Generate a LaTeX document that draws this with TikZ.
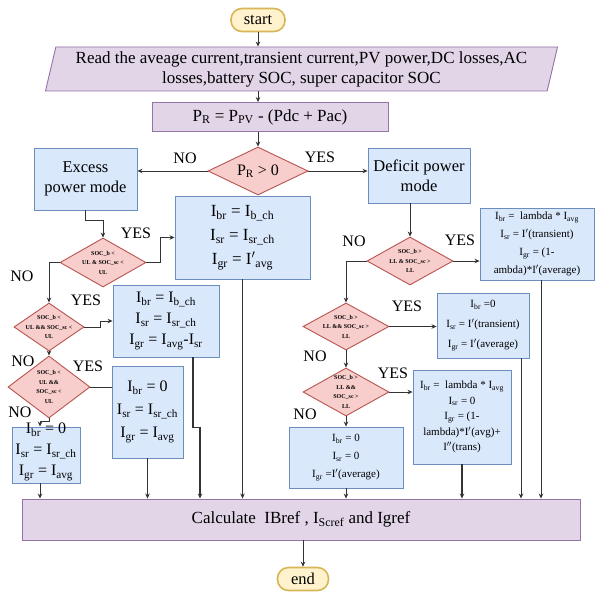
\documentclass[tikz,border=0pt]{standalone}
\usepackage{fontspec}
\setmainfont{Liberation Serif}
\usetikzlibrary{shapes.geometric,arrows.meta,calc}
\definecolor{bluefill}{HTML}{DAE8FC}
\definecolor{bluebd}{HTML}{6C8EBF}
\definecolor{redfill}{HTML}{F8CECC}
\definecolor{redbd}{HTML}{B85450}
\definecolor{purpfill}{HTML}{E1D5E7}
\definecolor{purpbd}{HTML}{9673A6}
\definecolor{yelfill}{HTML}{FFF2CC}
\definecolor{yelbd}{HTML}{D6B656}
\definecolor{linec}{HTML}{333333}
\newcommand{\sbs}[1]{\textsubscript{#1}}
\begin{document}
\begin{tikzpicture}[x=1pt,y=-1pt,
  bbox/.style={draw=bluebd, fill=bluefill, line width=0.9pt, inner sep=0pt, align=center, font=\fontsize{16}{21}\selectfont},
  rbox/.style={bbox, font=\fontsize{11}{18}\selectfont},
  pbox/.style={draw=purpbd, fill=purpfill, line width=0.9pt, inner sep=0pt, align=center, font=\fontsize{17}{20}\selectfont},
  term/.style={draw=yelbd, fill=yelfill, line width=1.6pt, rounded corners=11pt, inner sep=0pt, font=\fontsize{16.5}{20}\selectfont},
  dec/.style={diamond, draw=redbd, fill=redfill, line width=0.9pt, inner sep=0pt, aspect=2},
  dtext/.style={align=center, font=\fontsize{6}{9.5}\selectfont\bfseries, inner sep=0pt},
  arr/.style={draw=linec, line width=0.8pt, -{Stealth[length=5pt,width=4.5pt]}},
  ln/.style={draw=linec, line width=0.8pt},
  lab/.style={font=\fontsize{16}{18}\selectfont, inner sep=0pt}
]
\useasboundingbox[fill=white] (0,0) rectangle (596,591);
\coordinate (c200) at (200,0);
% top
\node[term, minimum width=54, minimum height=23] (start) at (258,20) {start};
\node[trapezium, trapezium left angle=75, trapezium right angle=105, trapezium stretches=true,
      draw=purpbd, fill=purpfill, line width=0.9pt, inner sep=0pt, minimum width=513, minimum height=44,
      align=center, font=\fontsize{17}{20}\selectfont] (read) at (301.5,69)
      {Read the aveage current,transient current,PV power,DC losses,AC\\losses,battery SOC, super capacitor SOC};
\node[pbox, minimum width=236, minimum height=29] (pr) at (270,117) {P\sbs{R} = P\sbs{PV} - (Pdc + Pac)};
\node[dec, minimum width=100, minimum height=48,
      label={[dtext, font=\fontsize{16}{18}\selectfont]center:{P\sbs{R} > 0}}] (d0) at (258,171) {};
% mode boxes
\node[bbox, font=\fontsize{16.5}{20}\selectfont, minimum width=103, minimum height=62] (excess) at (85.5,179) {Excess\\power mode};
\node[bbox, font=\fontsize{16.5}{20}\selectfont, minimum width=102, minimum height=55] (deficit) at (419,175.5) {Deficit power\\mode};
% left branch
\node[bbox, font=\fontsize{17}{24}\selectfont, minimum width=135, minimum height=83] (m1) at (242.5,237.5)
      {I\sbs{br} = I\sbs{b\_ch}\\I\sbs{sr} = I\sbs{sr\_ch}\\I\sbs{gr} = I$'$\sbs{avg}};
\node[dec, minimum width=86, minimum height=49,
      label={[dtext]center:{SOC\_b <\\UL \& SOC\_sc <\\UL}}] (d1) at (103,262.5) {};
\node[dec, minimum width=70, minimum height=48,
      label={[dtext]center:{SOC\_b <\\UL \&\& SOC\_sc <\\UL}}] (d2) at (49,327) {};
\node[bbox, minimum width=106, minimum height=72] (b2) at (166,321)
      {I\sbs{br} = I\sbs{b\_ch}\\I\sbs{sr} = I\sbs{sr\_ch}\\I\sbs{gr} = I\sbs{avg}-I\sbs{sr}};
\node[dec, minimum width=82, minimum height=62,
      label={[dtext]center:{SOC\_b <\\UL \&\&\\SOC\_sc <\\UL}}] (d3) at (49,387) {};
\node[bbox, font=\fontsize{16}{23}\selectfont, minimum width=71, minimum height=92] (b3) at (147.5,412)
      {I\sbs{br} = 0\\I\sbs{sr} = I\sbs{sr\_ch}\\I\sbs{gr} = I\sbs{avg}};
\node[bbox, minimum width=68, minimum height=56,
      label={[align=center, inner sep=0pt, font=\fontsize{16}{21}\selectfont, yshift=3pt]center:{I\sbs{br} = 0\\I\sbs{sr} = I\sbs{sr\_ch}\\I\sbs{gr} = I\sbs{avg}}}] (b4) at (46,455) {};
% right branch
\node[dec, minimum width=86, minimum height=48,
      label={[dtext]center:{SOC\_b >\\LL \& SOC\_sc >\\LL}}] (R1) at (410,261) {};
\node[rbox, minimum width=114, minimum height=72] (bR1) at (537,244)
      {I\sbs{br} = \ lambda * I\sbs{avg}\\I\sbs{sr} = I$'$(transient)\\I\sbs{gr} = (1-\\ambda)*I$'$(average)};
\node[dec, minimum width=86, minimum height=47,
      label={[dtext]center:{SOC\_b >\\LL \&\& SOC\_sc >\\LL}}] (R2) at (346,326.5) {};
\node[rbox, font=\fontsize{11}{20}\selectfont, minimum width=92, minimum height=65] (bR2) at (483,325.5)
      {I\sbs{br} =0\\I\sbs{sr} = I$'$(transient)\\I\sbs{gr} = I$'$(average)};
\node[dec, minimum width=86, minimum height=48,
      label={[dtext]center:{SOC\_b >\\LL \&\&\\SOC\_sc >\\LL}}] (R3) at (346,392) {};
\node[rbox, font=\fontsize{11}{15.5}\selectfont, minimum width=98, minimum height=94] (bR3) at (462,417)
      {I\sbs{br} = \ lambda * I\sbs{avg}\\I\sbs{sr} = 0\\I\sbs{gr} = (1-\\lambda)*I$'$(avg)+\\I$''$(trans)};
\node[rbox, minimum width=114, minimum height=61] (bR4) at (346,457.5)
      {I\sbs{br} = 0\\I\sbs{sr} = 0\\I\sbs{gr} =I$'$(average)};
% bottom
\node[pbox, minimum width=558, minimum height=41] (calc) at (301,519.5) {Calculate\ \ IBref , I\sbs{Scref} and Igref};
\node[term, minimum width=51, minimum height=23] (end) at (303,579) {end};
% labels
\node[lab] (n0) at (185,158) {NO};
\node[lab] (y0) at (320,157) {YES};
\node[lab] (y1) at (136,233) {YES};
\node[lab] (n1) at (22,276) {NO};
\node[lab] (y2) at (86,300) {YES};
\node[lab] (n2) at (23,361) {NO};
\node[lab] (y3) at (88,366) {YES};
\node[lab] (n3) at (20,412) {NO};
\node[lab] (n4) at (354,241) {NO};
\node[lab] (y4) at (460,240) {YES};
\node[lab] (y5) at (407,306) {YES};
\node[lab] (n5) at (315,356) {NO};
\node[lab] (y6) at (393,373) {YES};
\node[lab] (n6) at (305,414) {NO};
% connectors
\draw[arr] (start.south) -- (start.south |- read.north);
\draw[arr] (read.south -| start) -- (pr.north -| start);
\draw[arr] (pr.south -| start) -- (d0.north);
\draw[arr] (d0.west) -- (d0.west -| excess.east);
\draw[arr] (d0.east) -- (d0.east -| deficit.west);
\draw[arr] (excess.south) -- ++(0,10) -| (d1.north);
\draw[arr] (d1.east) -- ++(14,0) |- (m1.west);
\draw[arr] (d1.west) -| (d2.north);
\draw[arr] (d2.east) -- ++(16,0) |- (b2.west);
\draw[arr] (d2.south) -- (d3.north);
\draw[ln] (d3.east) -- (d3.east -| b3.west);
\draw[arr] (d3.south) -- ++(0,3) -| ([xshift=-6pt]b4.north);
\draw[arr] ([xshift=-6pt]b4.south) -- ([xshift=-6pt]b4.south |- calc.north);
\draw[arr] (b3.south) -- (b3.south |- calc.north);
\draw[arr, line width=1.3pt] ([xshift=27pt]b2.south) -- ++(0,70) -| (calc.north -| c200);
\draw[arr] (m1.south) -- (m1.south |- calc.north);
\draw[arr] (R1.north |- deficit.south) -- (R1.north);
\draw[arr] (R1.east) -- (R1.east -| bR1.west);
\draw[arr] (R1.west) -| (R2.north);
\draw[arr] (R2.east) -- (R2.east -| bR2.west);
\draw[arr] (R2.south) -- (R3.north);
\draw[arr] (R3.east) -- (R3.east -| bR3.west);
\draw[arr] (R3.south) -- (bR4.north);
\draw[arr] (bR4.south) -- (bR4.south |- calc.north);
\draw[arr, line width=1.3pt] (bR3.south) -- (bR3.south |- calc.north);
\draw[arr] ([xshift=38pt]bR2.south) -- ([xshift=38pt]bR2.south |- calc.north);
\draw[arr] ([xshift=4pt]bR1.south) -- ([xshift=4pt]bR1.south |- calc.north);
\draw[arr] (calc.south -| end) -- (end.north);
\end{tikzpicture}
\end{document}
